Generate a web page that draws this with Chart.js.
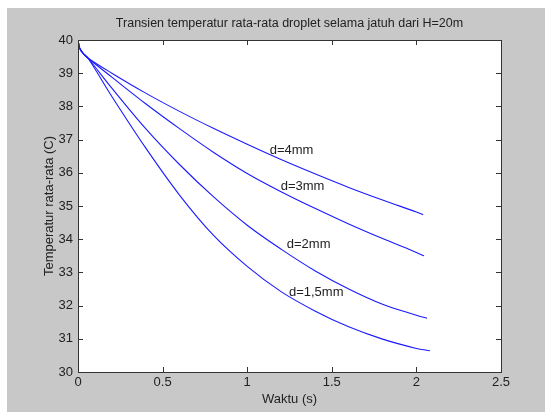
<!DOCTYPE html>
<html>
<head>
<meta charset="utf-8">
<script src="https://cdn.jsdelivr.net/npm/chart.js@4/dist/chart.umd.min.js"></script>
<style>
  html, body { margin: 0; padding: 0; background: #ffffff; }
  #wrap { position: absolute; left: 7px; top: 8px; width: 538px; height: 404px; background: #c8c8c8; }
  canvas { display: block; }
</style>
</head>
<body>
<div id="wrap"><canvas id="c" width="538" height="404"></canvas></div>
<script>
// ---- data ----
const chartTitle = 'Transien temperatur rata-rata droplet selama jatuh dari H=20m';
const xTitle = 'Waktu (s)';
const yTitle = 'Temperatur rata-rata (C)';
const seriesNames = ['d=4mm', 'd=3mm', 'd=2mm', 'd=1,5mm'];
const waktu = [0, 0.01, 0.03, 0.06, 0.2, 0.4, 0.6, 0.8, 1.0, 1.2, 1.4, 1.6, 1.8, 2.0];
const waktuAkhir = [2.04, 2.045, 2.063, 2.08];
const suhu4mm  = [40, 39.75, 39.6, 39.45, 39.0, 38.4, 37.85, 37.34, 36.86, 36.40, 35.97, 35.56, 35.18, 34.82, 34.74];
const suhu3mm  = [40, 39.75, 39.6, 39.45, 38.88, 38.08, 37.33, 36.62, 35.98, 35.43, 34.93, 34.46, 34.02, 33.60, 33.50];
const suhu2mm  = [40, 39.75, 39.6, 39.45, 38.55, 37.33, 36.25, 35.28, 34.42, 33.70, 33.05, 32.50, 32.04, 31.71, 31.62];
const suhu15mm = [40, 39.75, 39.6, 39.45, 38.30, 36.75, 35.33, 34.12, 33.18, 32.42, 31.84, 31.36, 30.99, 30.71, 30.64];
const labelX = [1.262, 1.327, 1.363, 1.408];
const labelY = [36.66, 35.58, 33.85, 32.40];
const xTicks = [0, 0.5, 1, 1.5, 2, 2.5];
const yTicks = [30, 31, 32, 33, 34, 35, 36, 37, 38, 39, 40];

const allSuhu = [suhu4mm, suhu3mm, suhu2mm, suhu15mm];
const datasets = allSuhu.map((s, i) => ({
  label: seriesNames[i],
  data: s.map((v, j) => ({ x: j < waktu.length ? waktu[j] : waktuAkhir[i], y: v })),
  borderColor: '#1a1aff',
  borderWidth: 1.1,
  pointRadius: 0,
  fill: false,
  tension: 0.35
}));

const textColor = '#222222';
const fontFam = '"Liberation Sans", Arial, sans-serif';

const boxPlugin = {
  id: 'matlabBox',
  beforeDatasetsDraw(chart) {
    const { ctx, chartArea: a } = chart;
    ctx.save();
    ctx.fillStyle = '#ffffff';
    ctx.fillRect(a.left, a.top, a.right - a.left, a.bottom - a.top);
    ctx.restore();
  },
  afterDatasetsDraw(chart) {
    const { ctx, chartArea: a, scales } = chart;
    ctx.save();
    ctx.strokeStyle = '#333333';
    ctx.lineWidth = 1;
    const L = 5;
    ctx.beginPath();
    xTicks.forEach(v => {
      const px = Math.round(scales.x.getPixelForValue(v)) + 0.5;
      ctx.moveTo(px, a.bottom); ctx.lineTo(px, a.bottom - L);
      ctx.moveTo(px, a.top); ctx.lineTo(px, a.top + L);
    });
    yTicks.forEach(v => {
      const py = Math.round(scales.y.getPixelForValue(v)) + 0.5;
      ctx.moveTo(a.left, py); ctx.lineTo(a.left + L, py);
      ctx.moveTo(a.right, py); ctx.lineTo(a.right - L, py);
    });
    ctx.stroke();
    ctx.strokeRect(Math.round(a.left) + 0.5, Math.round(a.top) + 0.5,
                   Math.round(a.right - a.left), Math.round(a.bottom - a.top));
    // curve labels
    ctx.fillStyle = textColor;
    ctx.font = '13px ' + fontFam;
    ctx.textAlign = 'center';
    ctx.textBaseline = 'middle';
    seriesNames.forEach((n, i) => {
      ctx.fillText(n, scales.x.getPixelForValue(labelX[i]), scales.y.getPixelForValue(labelY[i]));
    });
    ctx.restore();
  }
};

new Chart(document.getElementById('c'), {
  type: 'line',
  data: { datasets },
  options: {
    responsive: false,
    animation: false,
    layout: { padding: { left: 0, right: 44, top: 0, bottom: 0 } },
    plugins: {
      legend: { display: false },
      tooltip: { enabled: false },
      title: {
        display: true,
        fullSize: false,
        align: 'center',
        text: chartTitle,
        color: textColor,
        font: { family: fontFam, size: 12.5, weight: 'normal', lineHeight: 1.2 },
        padding: { top: 8, bottom: 9 }
      }
    },
    scales: {
      x: {
        type: 'linear',
        min: 0, max: 2.5,
        afterFit: s => { s.height = 40; },
        afterBuildTicks: s => { s.ticks = xTicks.map(v => ({ value: v })); },
        grid: { display: false, drawTicks: false },
        border: { display: false },
        ticks: { color: textColor, padding: 3, maxRotation: 0, autoSkip: false,
                 font: { family: fontFam, size: 13 }, callback: v => String(v) },
        title: { display: true, text: xTitle, color: textColor,
                 font: { family: fontFam, size: 13, lineHeight: 1.2 }, padding: { top: 0, bottom: 5 } }
      },
      y: {
        type: 'linear',
        min: 30, max: 40,
        afterFit: s => { s.width = 71; },
        afterBuildTicks: s => { s.ticks = yTicks.map(v => ({ value: v })); },
        grid: { display: false, drawTicks: false },
        border: { display: false },
        ticks: { color: textColor, padding: 5, autoSkip: false,
                 font: { family: fontFam, size: 13 }, callback: v => String(v) },
        title: { display: true, text: yTitle, color: textColor,
                 font: { family: fontFam, size: 13, lineHeight: 1.2 }, padding: { top: 35, bottom: 0 } }
      }
    }
  },
  plugins: [boxPlugin]
});
</script>
</body>
</html>
